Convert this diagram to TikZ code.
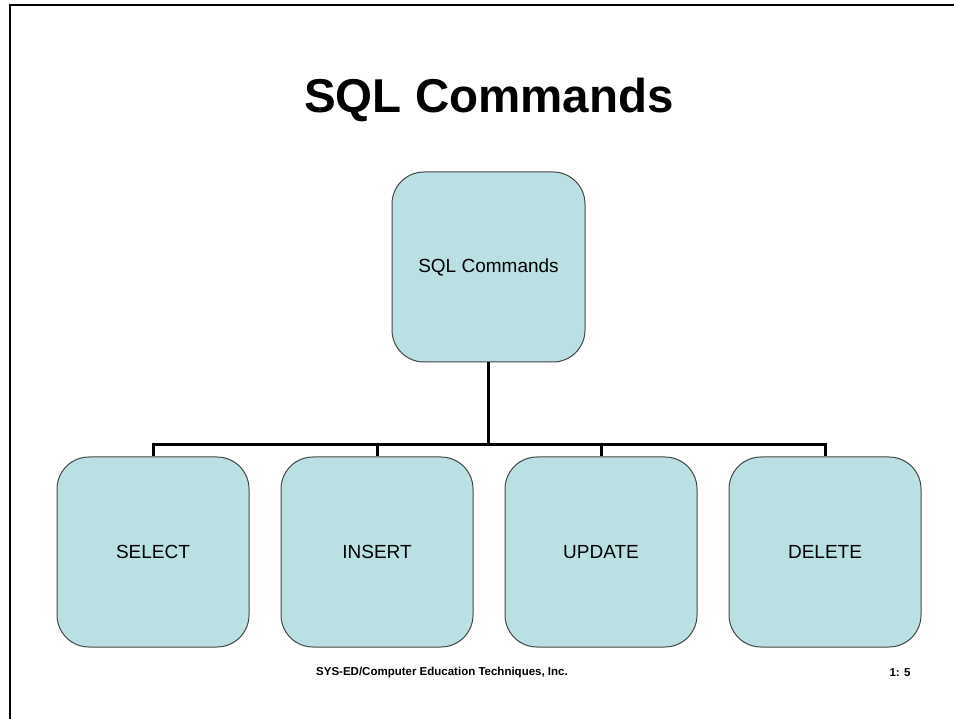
\documentclass[tikz,border=0pt]{standalone}
\usepackage{fontspec}
\setmainfont{Liberation Sans}
\definecolor{boxfill}{RGB}{186,224,227}
\definecolor{boxline}{RGB}{70,70,70}
\begin{document}
\begin{tikzpicture}[x=1pt,y=-1pt,
  box/.style={draw=boxline, line width=1pt, fill=boxfill, rounded corners=32pt,
    minimum width=192pt, minimum height=190pt, inner sep=0pt,
    font=\fontsize{19}{22}\selectfont},
  conn/.style={line width=3pt, black}]
\useasboundingbox (0,0) rectangle (954,719);
\draw[line width=2.5pt] (10,719) -- (10,5) -- (954,5);
\node[font=\bfseries\fontsize{47.5}{52}\selectfont] (title) at (489,100) {SQL Commands};
\node[box, minimum width=193pt] (top) at (488.5,267) {SQL Commands};
\node[box] (s1) at (153,552) {SELECT};
\node[box] (s2) at (377,552) {INSERT};
\node[box] (s3) at (601,552) {UPDATE};
\node[box] (s4) at (825,552) {DELETE};
\coordinate (j) at (488.5,445);
\draw[conn] (top.south) -- (j);
\draw[conn] (s1.north) |- (j) -| (s4.north);
\draw[conn] (s2.north) -- (s2.north |- j);
\draw[conn] (s3.north) -- (s3.north |- j);
\node[font=\bfseries\fontsize{11.5}{13}\selectfont] (foot) at (442,673) {SYS-ED/Computer Education Techniques, Inc.};
\node[font=\bfseries\fontsize{11.5}{13}\selectfont] (page) at (900,673) {1: 5};
\end{tikzpicture}
\end{document}
